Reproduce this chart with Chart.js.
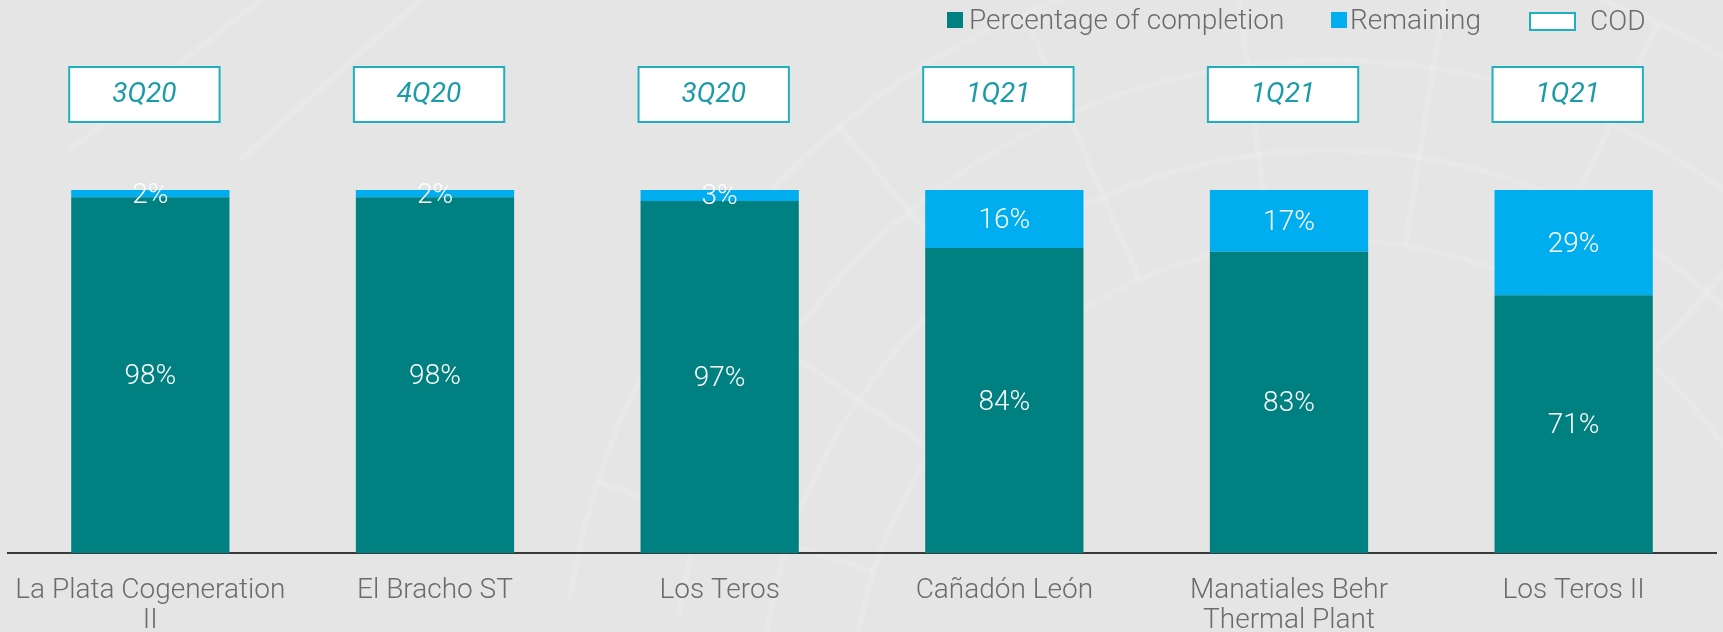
<!DOCTYPE html>
<html>
<head>
<meta charset="utf-8">
<script src="https://cdn.jsdelivr.net/npm/chart.js@4/dist/chart.umd.min.js"></script>
<style>
    html, body { margin: 0; padding: 0; background: #e5e5e5; }
    #contenedor { width: 1723px; height: 632px; position: relative; }
</style>
</head>
<body>
<div id="contenedor"><canvas id="grafico-avance" width="1723" height="632"></canvas></div>
<script>
// Datos del gráfico
const proyectos = [
    ['La Plata Cogeneration', 'II'],
    'El Bracho ST',
    'Los Teros',
    'Cañadón León',
    ['Manatiales Behr', 'Thermal Plant'],
    'Los Teros II'
];
const completado = [98, 98, 97, 84, 83, 71];
const restante = [2, 2, 3, 16, 17, 29];
const fechasCOD = ['3Q20', '4Q20', '3Q20', '1Q21', '1Q21', '1Q21'];

const COLOR_TEAL = '#008080';
const COLOR_AZUL = '#00adef';
const COLOR_BORDE_COD = '#1fb0bf';
const COLOR_TEXTO = '#6b6b6b';
const FUENTE = 'Roboto, "Liberation Sans", sans-serif';

// Fondo con marca de agua tenue
const fondoPlugin = {
    id: 'fondo',
    beforeDraw(chart) {
        const ctx = chart.ctx;
        ctx.save();
        ctx.fillStyle = '#e5e5e5';
        ctx.fillRect(0, 0, chart.width, chart.height);
        ctx.strokeStyle = 'rgba(255,255,255,0.13)';
        ctx.lineWidth = 6;
        const cx = 1330, cy = 720;
        [480, 570, 660, 770].forEach(r => {
            ctx.beginPath();
            ctx.arc(cx, cy, r, Math.PI * 1.05, Math.PI * 1.95);
            ctx.stroke();
        });
        for (let a = 1.1; a < 1.95; a += 0.09) {
            ctx.beginPath();
            ctx.moveTo(cx + Math.cos(Math.PI * a) * 480, cy + Math.sin(Math.PI * a) * 480);
            ctx.lineTo(cx + Math.cos(Math.PI * a) * 770, cy + Math.sin(Math.PI * a) * 770);
            ctx.stroke();
        }
        ctx.beginPath();
        ctx.moveTo(70, 150); ctx.lineTo(260, 0);
        ctx.moveTo(240, 160); ctx.lineTo(420, 0);
        ctx.stroke();
        ctx.restore();
    }
};

// Etiquetas de porcentaje dentro de cada segmento
const etiquetasPlugin = {
    id: 'etiquetas',
    afterDatasetsDraw(chart) {
        const ctx = chart.ctx;
        ctx.save();
        ctx.fillStyle = '#ffffff';
        ctx.font = '300 28px ' + FUENTE;
        ctx.textAlign = 'center';
        ctx.textBaseline = 'middle';
        chart.data.datasets.forEach((ds, i) => {
            chart.getDatasetMeta(i).data.forEach((bar, j) => {
                const p = bar.getProps(['x', 'y', 'base'], true);
                ctx.fillText(ds.data[j] + '%', p.x, (p.y + p.base) / 2 + 2);
            });
        });
        ctx.restore();
    }
};

// Cajas COD sobre cada barra y leyenda
const codPlugin = {
    id: 'cod',
    afterDraw(chart) {
        const ctx = chart.ctx;
        const top = chart.chartArea.top - 123;
        ctx.save();
        chart.getDatasetMeta(0).data.forEach((bar, j) => {
            const w = bar.width * 0.95;
            const left = bar.x - bar.width / 2 - 2;
            ctx.fillStyle = '#ffffff';
            ctx.fillRect(left, top, w, 55);
            ctx.strokeStyle = COLOR_BORDE_COD;
            ctx.lineWidth = 2;
            ctx.strokeRect(left, top, w, 55);
            ctx.fillStyle = '#1a9ba8';
            ctx.font = 'italic 400 28px ' + FUENTE;
            ctx.textAlign = 'center';
            ctx.textBaseline = 'middle';
            ctx.fillText(fechasCOD[j], left + w / 2, top + 28);
        });

        // Leyenda
        ctx.font = '300 28px ' + FUENTE;
        ctx.textBaseline = 'middle';
        ctx.textAlign = 'left';
        ctx.fillStyle = COLOR_TEAL;
        ctx.fillRect(947, 12, 16, 16);
        ctx.fillStyle = COLOR_TEXTO;
        ctx.fillText('Percentage of completion', 969, 22);
        ctx.fillStyle = COLOR_AZUL;
        ctx.fillRect(1331, 12, 16, 16);
        ctx.fillStyle = COLOR_TEXTO;
        ctx.fillText('Remaining', 1350, 22);
        ctx.fillStyle = '#ffffff';
        ctx.fillRect(1530, 13, 45, 17);
        ctx.strokeStyle = COLOR_BORDE_COD;
        ctx.lineWidth = 2;
        ctx.strokeRect(1530, 13, 45, 17);
        ctx.fillStyle = COLOR_TEXTO;
        ctx.fillText('COD', 1590, 23);
        ctx.restore();
    }
};

new Chart(document.getElementById('grafico-avance'), {
    type: 'bar',
    data: {
        labels: proyectos,
        datasets: [
            {
                label: 'Percentage of completion',
                data: completado,
                backgroundColor: COLOR_TEAL,
                borderWidth: 0,
                categoryPercentage: 1,
                barPercentage: 0.556
            },
            {
                label: 'Remaining',
                data: restante,
                backgroundColor: COLOR_AZUL,
                borderWidth: 0,
                categoryPercentage: 1,
                barPercentage: 0.556
            }
        ]
    },
    options: {
        responsive: false,
        animation: false,
        devicePixelRatio: 1,
        layout: { padding: { top: 190, left: 8, right: 7, bottom: 0 } },
        plugins: {
            legend: { display: false },
            tooltip: { enabled: false }
        },
        scales: {
            x: {
                stacked: true,
                grid: { display: false, drawTicks: false },
                border: { display: true, color: '#3a3a3a', width: 2 },
                ticks: {
                    color: COLOR_TEXTO,
                    font: { family: FUENTE, size: 28, weight: '300', lineHeight: 1.08 },
                    padding: 23,
                    maxRotation: 0,
                    autoSkip: false
                },
                afterFit(scale) {
                    scale.height = 79;
                    scale.paddingLeft = 0;
                    scale.paddingRight = 0;
                }
            },
            y: {
                stacked: true,
                display: false,
                min: 0,
                max: 100
            }
        }
    },
    plugins: [fondoPlugin, etiquetasPlugin, codPlugin]
});
</script>
</body>
</html>
